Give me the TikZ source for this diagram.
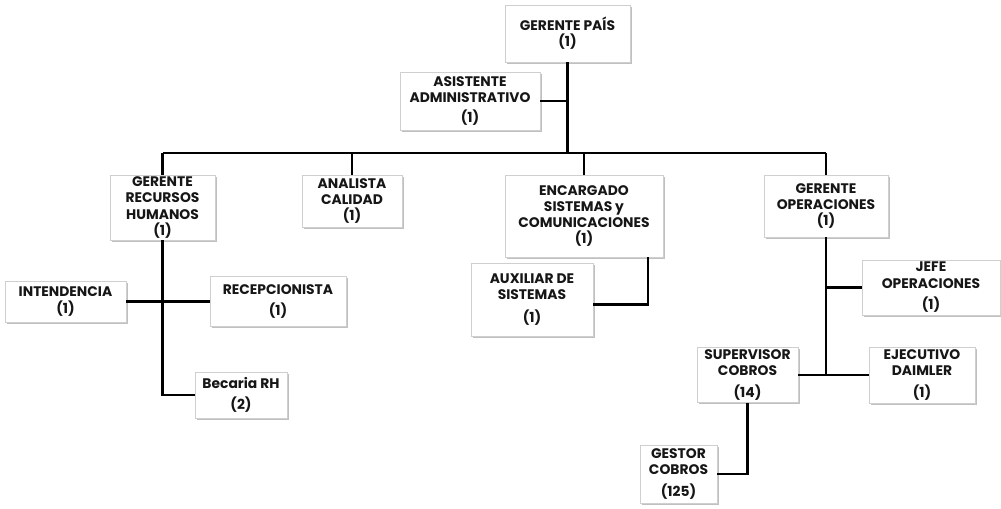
\documentclass[tikz,border=0pt]{standalone}
\usepackage{fontspec}
\setmainfont{Poppins}
\usetikzlibrary{shadows}
\definecolor{boxline}{HTML}{CFCFCF}
\definecolor{ink}{HTML}{161616}
\tikzset{
  orgbox/.style={draw=boxline, line width=0.6pt, fill=white, align=center,
    inner sep=1pt, font=\fontsize{10.4}{12.2}\selectfont\bfseries, text=ink,
    drop shadow={shadow xshift=1.3pt, shadow yshift=-1.3pt, opacity=0.45, fill=black!55}},
  link/.style={line width=2.2pt, draw=black}
}
\begin{document}
\begin{tikzpicture}[x=0.75pt, y=-0.75pt]
\useasboundingbox (0,0) rectangle (1001,508);

% boxes
\node[orgbox, minimum width=93.75pt, minimum height=42.75pt] (gp) at (567.5,33.5) {GERENTE PAÍS\\(1)};
\node[orgbox, minimum width=105pt, minimum height=43.5pt] (asis) at (470,101) {ASISTENTE\\ADMINISTRATIVO\\[3pt](1)};
\node[orgbox, minimum width=78.75pt, minimum height=48.75pt] (grh) at (162.5,207.5) {GERENTE\\RECURSOS\\HUMANOS\\(1)};
\node[orgbox, minimum width=75pt, minimum height=39pt] (anal) at (352,201) {ANALISTA\\CALIDAD\\(1)};
\node[orgbox, minimum width=118.5pt, minimum height=61.5pt] (enc) at (584,216) {ENCARGADO\\SISTEMAS y\\COMUNICACIONES\\(1)};
\node[orgbox, minimum width=93pt, minimum height=46.5pt] (gop) at (826,206) {GERENTE\\OPERACIONES\\(1)};
\node[orgbox, minimum width=90.75pt, minimum height=30.75pt] (inten) at (65.5,301.5) {INTENDENCIA\\(1)};
\node[orgbox, minimum width=102pt, minimum height=37.5pt] (recep) at (278,301.5) {RECEPCIONISTA\\[4pt](1)};
\node[orgbox, minimum width=69pt, minimum height=34.5pt] (bec) at (241,395) {Becaria RH\\[3pt](2)};
\node[orgbox, minimum width=91.5pt, minimum height=54.75pt] (aux) at (532,299.5) {AUXILIAR DE\\SISTEMAS\\[5pt](1)};
\node[orgbox, minimum width=103.5pt, minimum height=41.25pt] (jefe) at (931,287.5) {JEFE\\OPERACIONES\\[4pt](1)};
\node[orgbox, minimum width=79.5pt, minimum height=42pt] (ejec) at (922,375) {EJECUTIVO\\DAIMLER\\[4pt](1)};
\node[orgbox, minimum width=75.75pt, minimum height=41.25pt] (sup) at (747.5,375) {SUPERVISOR\\COBROS\\[4pt](14)};
\node[orgbox, minimum width=57.75pt, minimum height=43.5pt] (gest) at (678.5,474) {GESTOR\\COBROS\\[4pt](125)};

% main bus
\coordinate (busL) at (162.5,153);
\coordinate (busR) at (826,153);
\draw[link] (gp.south) -- (gp.south |- busL);
\draw[link] (asis.east) -- (asis.east -| gp.south);
\draw[link] (busL) -- (busR);
\draw[link] (grh.north) -- (grh.north |- busL);
\draw[link] (anal.north) -- (anal.north |- busL);
\draw[link] (enc.north) -- (enc.north |- busL);
\draw[link] (gop.north) -- (gop.north |- busL);

% human resources branch
\draw[link] (grh.south) |- (bec.west);
\draw[link] (inten.east) -- (recep.west);

% systems branch
\draw[link] ([xshift=48pt]enc.south) |- ([yshift=-3.4pt]aux.east);

% operations branch
\draw[link] (gop.south) -- (gop.south |- sup.east);
\draw[link] (jefe.west) -- (jefe.west -| gop.south);
\draw[link] (sup.east) -- (ejec.west);
\draw[link] (sup.south) |- (gest.east);
\end{tikzpicture}
\end{document}
